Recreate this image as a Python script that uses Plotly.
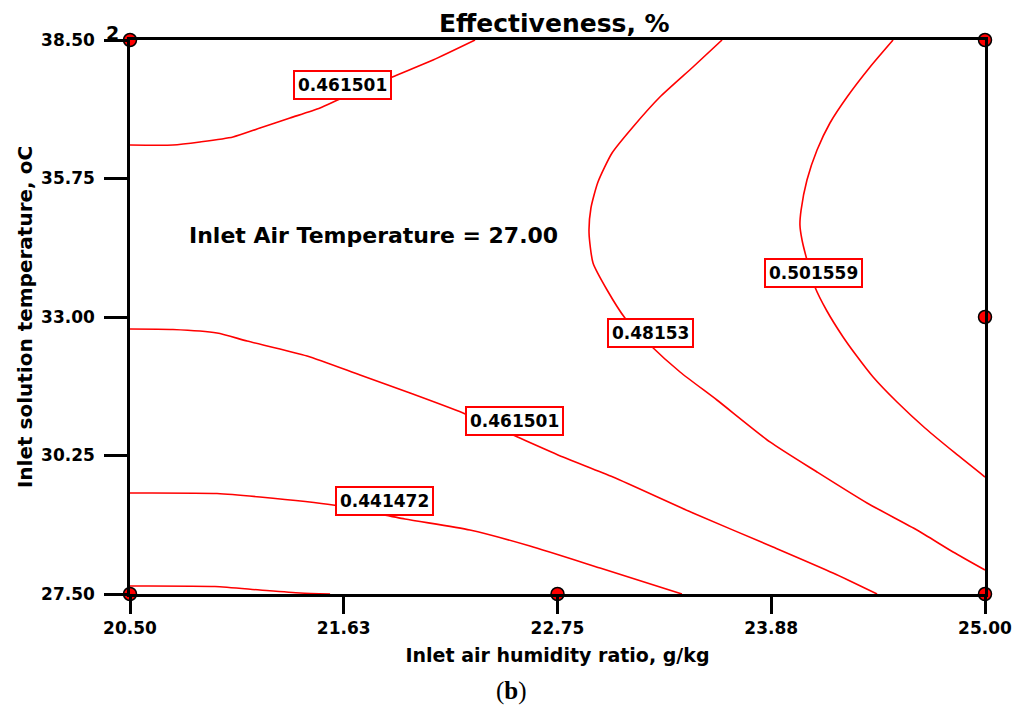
import plotly.graph_objects as go

# Contour levels of effectiveness (labelled lines) and the unlabelled lowest one
levels = ["0.461501", "0.48153", "0.501559", "0.461501", "0.441472", "0.421443"]

# Contour paths: inlet air humidity ratio (g/kg) vs inlet solution temperature (oC)
c1_x = [20.5, 20.726, 20.868, 21.042, 21.184, 21.342, 21.500, 21.605, 21.868, 22.095, 22.316]
c1_y = [36.415, 36.415, 36.475, 36.574, 36.753, 36.951, 37.150, 37.328, 37.745, 38.103, 38.5]

c2_x = [23.616, 23.463, 23.289, 23.147, 23.037, 22.963, 22.926, 22.916, 22.937, 23.011,
        23.105, 23.237, 23.395, 23.589, 23.868, 24.116, 24.379, 24.642, 24.832, 25.0]
c2_y = [38.5, 37.964, 37.368, 36.773, 36.256, 35.680, 35.164, 34.668, 34.072, 33.536,
        32.980, 32.444, 31.908, 31.352, 30.520, 29.922, 29.307, 28.771, 28.334, 27.976]

c3_x = [24.516, 24.395, 24.274, 24.184, 24.116, 24.063, 24.032, 24.026, 24.037, 24.063,
        24.105, 24.168, 24.253, 24.321, 24.411, 24.537, 24.684, 24.842, 25.0]
c3_y = [38.5, 37.964, 37.368, 36.852, 36.316, 35.720, 35.124, 34.827, 34.529, 34.132,
        33.596, 33.119, 32.603, 32.245, 31.809, 31.312, 30.796, 30.300, 29.823]

c4_x = [20.5, 20.726, 20.958, 21.116, 21.432, 21.711, 21.974, 22.253, 22.516,
        22.779, 23.042, 23.463, 23.884, 24.200, 24.432]
c4_y = [32.762, 32.752, 32.682, 32.523, 32.226, 31.848, 31.491, 31.094, 30.657,
        30.220, 29.823, 29.108, 28.433, 27.917, 27.5]

c5_x = [20.5, 20.958, 21.184, 21.568, 21.947, 22.289, 22.605, 22.974, 23.405]
c5_y = [29.505, 29.495, 29.426, 29.267, 28.990, 28.771, 28.453, 28.016, 27.5]

c6_x = [20.5, 20.947, 21.184, 21.395, 21.553]
c6_y = [27.66, 27.65, 27.579, 27.52, 27.5]

# Design points
pts_x = [20.5, 25.0, 25.0, 20.5, 22.75, 25.0]
pts_y = [38.5, 38.5, 33.0, 27.5, 27.5, 27.5]

# Axis ticks
x_ticks = [20.5, 21.625, 22.75, 23.875, 25.0]
x_ticktext = ["20.50", "21.63", "22.75", "23.88", "25.00"]
y_ticks = [27.5, 30.25, 33.0, 35.75, 38.5]
y_ticktext = ["27.50", "30.25", "33.00", "35.75", "38.50"]

FONT = "DejaVu Sans"
RED = "#ff0000"

fig = go.Figure()

paths = [(c1_x, c1_y), (c2_x, c2_y), (c3_x, c3_y), (c4_x, c4_y), (c5_x, c5_y), (c6_x, c6_y)]
for (px, py), lev in zip(paths, levels):
    fig.add_trace(go.Scatter(
        x=px, y=py, mode="lines", name=lev,
        line=dict(color=RED, width=1.6, shape="spline", smoothing=0.6),
        hoverinfo="skip", showlegend=False,
    ))

fig.add_trace(go.Scatter(
    x=pts_x, y=pts_y, mode="markers", cliponaxis=False, showlegend=False,
    marker=dict(symbol="circle", size=13, color=RED, line=dict(color="black", width=1.5)),
))

# Boxed contour labels (label text, x, y)
label_pos = [
    (levels[0], 21.621, 37.606),
    (levels[1], 23.237, 32.682),
    (levels[2], 24.095, 33.874),
    (levels[3], 22.526, 30.935),
    (levels[4], 21.842, 29.346),
]
for txt, lx, ly in label_pos:
    fig.add_annotation(
        x=lx, y=ly, xref="x", yref="y", text=txt, showarrow=False,
        font=dict(family=FONT, size=17, color="black", weight="bold"),
        bgcolor="white", bordercolor=RED, borderwidth=2, borderpad=3,
    )

fig.add_annotation(
    x=21.779, y=34.628, xref="x", yref="y", text="Inlet Air Temperature = 27.00",
    showarrow=False, font=dict(family=FONT, size=22, color="black", weight="bold"),
)

# Replicate count at the top-left design point
fig.add_annotation(
    x=pts_x[0], y=pts_y[0], xref="x", yref="y", text="2", showarrow=False,
    xanchor="right", xshift=-9, yshift=7,
    font=dict(family=FONT, size=19, color="black", weight="bold"),
)

fig.add_annotation(
    x=0.497, y=1, xref="paper", yref="paper", yanchor="middle", yshift=17,
    text="Effectiveness, %", showarrow=False,
    font=dict(family=FONT, size=25, color="black", weight="bold"),
)

fig.add_annotation(
    x=0.446, y=-0.175, xref="paper", yref="paper", yanchor="middle",
    text="(<b>b</b>)", showarrow=False,
    font=dict(family="Liberation Serif", size=25, color="black"),
)

axis_common = dict(
    showline=True, linecolor="black", linewidth=2.5, mirror=True,
    ticks="outside", tickcolor="black", tickwidth=2.5,
    showgrid=False, zeroline=False, automargin=False,
    tickfont=dict(family=FONT, size=17, color="black", weight="bold"),
)

fig.update_xaxes(
    range=[20.5, 25.0], tickvals=x_ticks, ticktext=x_ticktext, ticklen=17,
    title=dict(text="Inlet air humidity ratio, g/kg", standoff=12,
               font=dict(family=FONT, size=19, color="black", weight="bold")),
    **axis_common,
)
fig.update_yaxes(
    range=[27.5, 38.5], tickvals=y_ticks, ticktext=y_ticktext, ticklen=23,
    ticklabelstandoff=6,
    title=dict(text="Inlet solution temperature, oC", standoff=4,
               font=dict(family=FONT, size=20, color="black", weight="bold")),
    **axis_common,
)

fig.update_layout(
    width=1013, height=715,
    margin=dict(l=130, r=28, t=40, b=121),
    plot_bgcolor="white", paper_bgcolor="white",
)

fig.write_html("out.html")
